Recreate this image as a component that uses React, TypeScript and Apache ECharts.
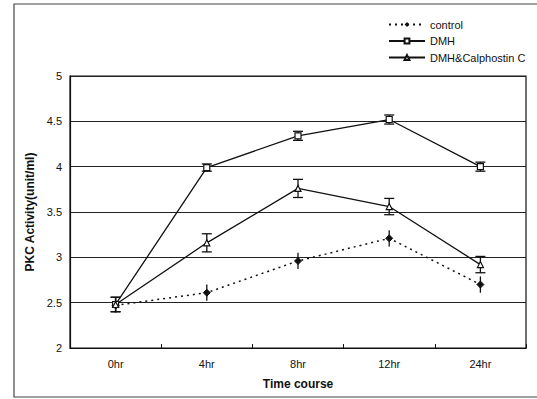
import React, { useEffect, useRef } from "react";
import * as echarts from "echarts";

const categories = ["0hr", "4hr", "8hr", "12hr", "24hr"];
const controlValues = [2.47, 2.61, 2.96, 3.21, 2.7];
const controlErr = [0.08, 0.09, 0.09, 0.09, 0.09];
const dmhValues = [2.48, 3.99, 4.34, 4.52, 4.0];
const dmhErr = [0.08, 0.04, 0.05, 0.05, 0.05];
const calValues = [2.48, 3.16, 3.76, 3.56, 2.92];
const calErr = [0.08, 0.1, 0.1, 0.09, 0.09];
const yTicks = { min: 2, max: 5, interval: 0.5 };

function errData(vals: number[], errs: number[]) {
  return vals.map((v, i) => [i, v - errs[i], v + errs[i]]);
}

function errSeries(name: string, vals: number[], errs: number[], cap: number) {
  return {
    type: "custom",
    name: name + "-err",
    silent: true,
    z: 1,
    data: errData(vals, errs),
    renderItem: (params: any, api: any) => {
      const i = api.value(0);
      const lo = api.coord([i, api.value(1)]);
      const hi = api.coord([i, api.value(2)]);
      const style = { stroke: "#111", lineWidth: 1.3 };
      const children: any[] = [
        { type: "line", shape: { x1: lo[0], y1: lo[1], x2: hi[0], y2: hi[1] }, style },
      ];
      if (cap > 0) {
        children.push({ type: "line", shape: { x1: lo[0] - cap, y1: lo[1], x2: lo[0] + cap, y2: lo[1] }, style });
        children.push({ type: "line", shape: { x1: hi[0] - cap, y1: hi[1], x2: hi[0] + cap, y2: hi[1] }, style });
      }
      return { type: "group", children };
    },
  };
}

export default function App() {
  const ref = useRef<HTMLDivElement>(null);
  useEffect(() => {
    if (!ref.current) return;
    const chart = echarts.init(ref.current, null, { renderer: "svg" });
    const font = "Liberation Sans, Arial, sans-serif";
    chart.setOption({
      animation: false,
      backgroundColor: "#fff",
      textStyle: { fontFamily: font, color: "#111" },
      grid: {
        left: 70,
        top: 76,
        width: 456,
        height: 272,
        show: true,
        borderColor: "#111",
        borderWidth: 1.2,
      },
      legend: {
        orient: "vertical",
        left: 383,
        top: 14,
        itemWidth: 36,
        itemHeight: 6,
        itemGap: 5.5,
        textStyle: { fontFamily: font, fontSize: 11, color: "#111" },
        data: ["control", "DMH", "DMH&Calphostin C"],
      },
      graphic: [
        {
          type: "rect",
          shape: { x: 14, y: 4, width: 540, height: 393 },
          style: { fill: "none", stroke: "#444", lineWidth: 1.2 },
          silent: true,
        },
      ],
      xAxis: {
        type: "category",
        data: categories,
        boundaryGap: true,
        axisLine: { lineStyle: { color: "#111", width: 1.2 } },
        axisTick: { show: true, inside: true, length: 4, lineStyle: { color: "#111" } },
        axisLabel: { fontSize: 11, color: "#111", margin: 10, fontFamily: font },
        name: "Time course",
        nameLocation: "middle",
        nameGap: 30,
        nameTextStyle: { fontSize: 12, fontWeight: "bold", color: "#111", fontFamily: font },
      },
      yAxis: {
        type: "value",
        min: yTicks.min,
        max: yTicks.max,
        interval: yTicks.interval,
        axisLine: { show: true, lineStyle: { color: "#111", width: 1.2 } },
        axisTick: { show: false },
        splitLine: { show: true, lineStyle: { color: "#222", width: 1.2 } },
        axisLabel: { fontSize: 11, color: "#111", margin: 8, fontFamily: font },
        name: "PKC Activity(unit/ml)",
        nameLocation: "middle",
        nameGap: 33,
        nameTextStyle: { fontSize: 12, fontWeight: "bold", color: "#111", fontFamily: font },
      },
      series: [
        errSeries("control", controlValues, controlErr, 0),
        errSeries("DMH", dmhValues, dmhErr, 5),
        errSeries("DMH&Calphostin C", calValues, calErr, 5),
        {
          name: "control",
          type: "line",
          data: controlValues,
          symbol: "diamond",
          symbolSize: 7,
          z: 3,
          lineStyle: { color: "#111", width: 1.5, type: [2, 4] },
          itemStyle: { color: "#111", borderColor: "#111" },
        },
        {
          name: "DMH",
          type: "line",
          data: dmhValues,
          symbol: "rect",
          symbolSize: 6,
          z: 3,
          lineStyle: { color: "#111", width: 1.3 },
          itemStyle: { color: "#fff", borderColor: "#111", borderWidth: 1.2 },
        },
        {
          name: "DMH&Calphostin C",
          type: "line",
          data: calValues,
          symbol: "triangle",
          symbolSize: 6,
          z: 3,
          lineStyle: { color: "#111", width: 1.3 },
          itemStyle: { color: "#fff", borderColor: "#111", borderWidth: 1.2 },
        },
      ],
    });
    return () => chart.dispose();
  }, []);
  return (
    <div
      ref={ref}
      style={{ position: "fixed", left: 0, top: 0, width: 537, height: 399 }}
    />
  );
}
